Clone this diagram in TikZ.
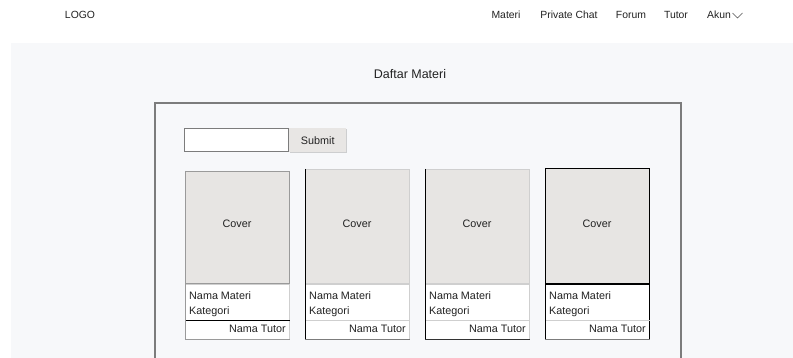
\documentclass[tikz,border=0pt]{standalone}
\usepackage{fontspec}
\setmainfont{Liberation Sans}
\usetikzlibrary{shadows}
\definecolor{pagebg}{HTML}{F7F8FA}
\definecolor{framegray}{HTML}{7C7C7C}
\definecolor{coverfill}{HTML}{E7E5E3}
\definecolor{btnfill}{HTML}{E8E6E4}
\definecolor{inkcol}{HTML}{222222}
\definecolor{lightline}{HTML}{CFCFCF}
\definecolor{midline}{HTML}{9A9A9A}
\definecolor{darkline}{HTML}{333333}
\begin{document}
\begin{tikzpicture}[x=1pt,y=-1pt,
  navtext/.style={font=\fontsize{10.4}{12}\selectfont, text=inkcol, inner sep=0pt, anchor=center},
  bodytext/.style={font=\fontsize{10.8}{12}\selectfont, text=inkcol, inner sep=0pt},
  coverbox/.style={fill=coverfill, draw=#1, line width=0.8pt,
    drop shadow={shadow xshift=0pt, shadow yshift=-1.2pt, opacity=0.4}},
  infobox/.style={fill=white, draw=#1, line width=0.8pt},
  edge/.style={line width=0.9pt},
]
% canvas and page background
\useasboundingbox (0,0) rectangle (793,358);
\fill[white] (0,0) rectangle (793,358);
\fill[pagebg] (11,43) rectangle (793,358);

% header
\node[navtext] (logo) at (80,15) {LOGO};
\node[navtext] (nmateri) at (506,15) {Materi};
\node[navtext] (nchat) at (569,15) {Private Chat};
\node[navtext] (nforum) at (631,15) {Forum};
\node[navtext] (ntutor) at (676,15) {Tutor};
\node[navtext] (nakun) at (719,15) {Akun};
\coordinate (chevA) at (732.5,13);
\coordinate (chevB) at (737.5,18);
\coordinate (chevC) at (742.5,13);
\draw[inkcol!80, line width=0.45pt] (chevA) -- (chevB) -- (chevC);

% title
\node[font=\fontsize{12.5}{14}\selectfont, text=inkcol, inner sep=0pt] (title) at (410,74) {Daftar Materi};

% content frame
\draw[framegray, line width=1.4pt] (155,360) -- (155,103) -- (681,103) -- (681,360);

% search field and button
\node[draw=framegray, fill=white, line width=0.9pt, minimum width=104pt, minimum height=23pt,
      inner sep=0pt, anchor=north west] (search) at (184,128) {};
\node[bodytext, fill=btnfill, minimum width=57pt, minimum height=24pt, anchor=north west,
      drop shadow={shadow xshift=0.8pt, shadow yshift=-1.2pt, opacity=0.35}] (submit) at (289,128) {Submit};

% cards: number / left x / top y / cover border / info border / separator / left edge / bottom edge
\foreach \i/\x/\y/\cov/\inf/\sep/\lc/\bc in {
    1/185/171/midline/lightline/black/midline/midline,
    2/305/169/lightline/lightline/lightline/black/framegray,
    3/425/169/lightline/lightline/lightline/black/darkline,
    4/545/168/black/black/lightline/black/framegray}{
  \pgfmathsetmacro{\h}{283-\y}
  \node[coverbox=\cov, minimum width=104pt, minimum height=\h pt, inner sep=0pt,
        anchor=north west] (cover\i) at (\x,\y) {};
  \node[bodytext] (covertxt\i) at (\x+52,224) {Cover};
  \node[infobox=\inf, minimum width=104pt, minimum height=55pt, inner sep=0pt,
        anchor=north west] (info\i) at (\x,284) {};
  \draw[\sep, line width=0.8pt] (info\i.west |- 0,320) coordinate (sepL\i)
        -- (info\i.east |- 0,320) coordinate (sepR\i);
  \draw[\lc, edge] (cover\i.north west) -- (info\i.south west);
  \draw[\bc, edge] (info\i.south west) -- (info\i.south east);
  \node[bodytext, anchor=west] (nama\i) at (\x+4,296) {Nama Materi};
  \node[bodytext, anchor=west] (kat\i) at (\x+4,312) {Kategori};
  \node[bodytext, anchor=east] (tutor\i) at (\x+101,329) {Nama Tutor};
}
\end{tikzpicture}
\end{document}
